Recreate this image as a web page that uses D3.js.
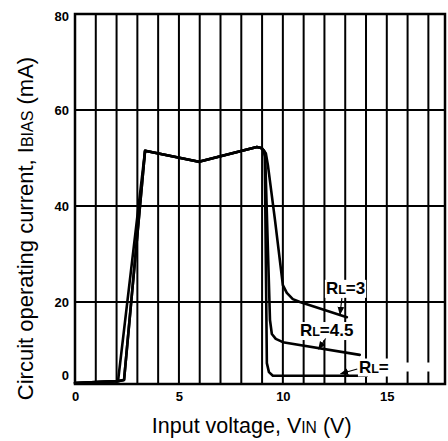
<!DOCTYPE html>
<html>
<head>
<meta charset="utf-8">
<script src="https://cdn.jsdelivr.net/npm/d3@7"></script>
<style>
  html, body { margin: 0; padding: 0; background: #fff; }
  svg { display: block; }
  text { font-family: "Liberation Sans", Arial, sans-serif; }
</style>
</head>
<body>
<svg id="chart" width="448" height="441"></svg>
<script>
// ---- data ----
const xTicks = [0, 5, 10, 15];
const yTicks = [0, 20, 40, 60, 80];
const xGrid = [1, 2, 3, 4, 5, 6, 7, 8, 9, 10, 11, 12, 13, 14, 15, 16, 17];
const yGrid = [20, 40, 60];

// Input voltage (V) / circuit current (mA)
const vinInf = [0, 2.07, 3.37, 5.96, 8.75, 8.94, 9.09, 9.13, 9.23, 9.33, 9.52, 14.04];
const iInf   = [0.25, 0.7, 51.5, 49.2, 52.3, 52.1, 51.5, 50.4, 5.1, 2.9, 2.0, 2.0];

const vin45 = [0, 2.07, 2.36, 3.37, 5.96, 8.75, 8.94, 9.09, 9.15, 9.38, 9.47, 9.66, 10.0, 13.7];
const i45   = [0.25, 0.7, 1.0, 51.5, 49.2, 52.3, 52.1, 51.5, 50.2, 15.6, 12.2, 11.0, 10.2, 7.1];

const vin3 = [0, 2.07, 2.36, 3.37, 5.96, 8.75, 8.99, 9.18, 9.28, 9.62, 10.0, 10.19, 10.48, 10.82, 13.08];
const i3   = [0.25, 0.7, 1.0, 51.5, 49.2, 52.3, 52.1, 51.0, 48.5, 37.1, 23.5, 21.9, 20.6, 20.0, 16.3];

const seriesNames = ["\u221e", "4.5", "3"];

// ---- layout ----
const svg = d3.select("#chart");
const x = d3.scaleLinear().domain([0, 17.8]).range([75, 445]);
const y = d3.scaleLinear().domain([0, 20, 80]).range([384, 302, 14]);

const zip = (a, b) => a.map((v, i) => [v, b[i]]);
const series = [zip(vinInf, iInf), zip(vin45, i45), zip(vin3, i3)];

// grid
svg.append("g").selectAll("line").data(xGrid).join("line")
  .attr("x1", d => x(d)).attr("x2", d => x(d))
  .attr("y1", y(80)).attr("y2", y(0))
  .attr("stroke", "#000").attr("stroke-width", 2);
svg.append("g").selectAll("line").data(yGrid).join("line")
  .attr("x1", x(0)).attr("x2", x(17.8))
  .attr("y1", d => y(d)).attr("y2", d => y(d))
  .attr("stroke", "#000").attr("stroke-width", 2);

// frame
svg.append("rect")
  .attr("x", x(0)).attr("y", y(80))
  .attr("width", x(17.8) - x(0)).attr("height", y(0) - y(80))
  .attr("fill", "none").attr("stroke", "#000").attr("stroke-width", 2.5);

// axes (labels only)
const ax = svg.append("g").attr("transform", `translate(0,${y(0)})`)
  .call(d3.axisBottom(x).tickValues(xTicks).tickSize(0).tickPadding(7.5).tickFormat(d3.format("d")));
const ay = svg.append("g").attr("transform", `translate(${x(0)},0)`)
  .call(d3.axisLeft(y).tickValues(yTicks).tickSize(0).tickPadding(6).tickFormat(d3.format("d")));
[ax, ay].forEach(g => {
  g.select(".domain").remove();
  g.selectAll("text").attr("font-family", "Liberation Sans, Arial, sans-serif")
    .attr("font-size", 13).attr("font-weight", "bold").attr("fill", "#000");
});
ay.selectAll(".tick").filter(d => d === 0).select("text").attr("dy", "-0.35em");
ay.selectAll(".tick").filter(d => d === 80).select("text").attr("dy", "0.5em");

// curves
const line = d3.line().x(d => x(d[0])).y(d => y(d[1]));
svg.append("g").selectAll("path").data(series).join("path")
  .attr("d", line).attr("fill", "none").attr("stroke", "#000")
  .attr("stroke-width", 2.6).attr("stroke-linejoin", "round").attr("stroke-linecap", "round");

// arrow marker
svg.append("defs").append("marker")
  .attr("id", "ah").attr("viewBox", "0 0 10 10").attr("refX", 9).attr("refY", 5)
  .attr("markerWidth", 7).attr("markerHeight", 7).attr("orient", "auto")
  .append("path").attr("d", "M0,1 L10,5 L0,9 Z").attr("fill", "#000");

// labels
function rlLabel(v, i, name, extraBox) {
  const g = svg.append("g");
  const bg = g.append("rect").attr("fill", "#fff");
  const t = g.append("text").attr("x", x(v)).attr("y", y(i))
    .attr("font-size", 17).attr("font-weight", "bold").attr("fill", "#000");
  t.append("tspan").text("R");
  t.append("tspan").attr("font-size", 12.5).text("L");
  t.append("tspan").text("=" + name);
  const b = t.node().getBBox();
  bg.attr("x", b.x - 1).attr("y", b.y + 1).attr("width", b.width + 2).attr("height", b.height - 1);
  if (extraBox) {
    g.insert("rect", "text").attr("fill", "#fff")
      .attr("x", b.x + b.width).attr("y", y(i) - 10)
      .attr("width", 48).attr("height", 9);
  }
}
function arrow(v0, i0, v1, i1) {
  svg.append("line")
    .attr("x1", x(v0)).attr("y1", y(i0)).attr("x2", x(v1)).attr("y2", y(i1))
    .attr("stroke", "#000").attr("stroke-width", 1.2).attr("marker-end", "url(#ah)");
}
rlLabel(12.07, 21.7, "3", false);
rlLabel(10.82, 11.7, "4.5", false);
rlLabel(13.66, 2.8, "", true);
arrow(12.84, 20.8, 12.75, 17.0);
arrow(12.06, 11.1, 11.72, 8.5);
arrow(13.58, 3.66, 12.78, 2.5);

// axis titles
const xt = svg.append("text").attr("x", 251.7).attr("y", 433.3).attr("text-anchor", "middle")
  .attr("font-size", 21.5).attr("fill", "#000");
xt.append("tspan").text("Input voltage, V");
xt.append("tspan").attr("font-size", 15.7).text("IN");
xt.append("tspan").text(" (V)");

const yt = svg.append("text").attr("transform", "translate(33,228.5) rotate(-90)")
  .attr("text-anchor", "middle").attr("font-size", 22).attr("fill", "#000");
yt.append("tspan").text("Circuit operating current, I");
yt.append("tspan").attr("font-size", 16).text("BIAS");
yt.append("tspan").text(" (mA)");
</script>
</body>
</html>
